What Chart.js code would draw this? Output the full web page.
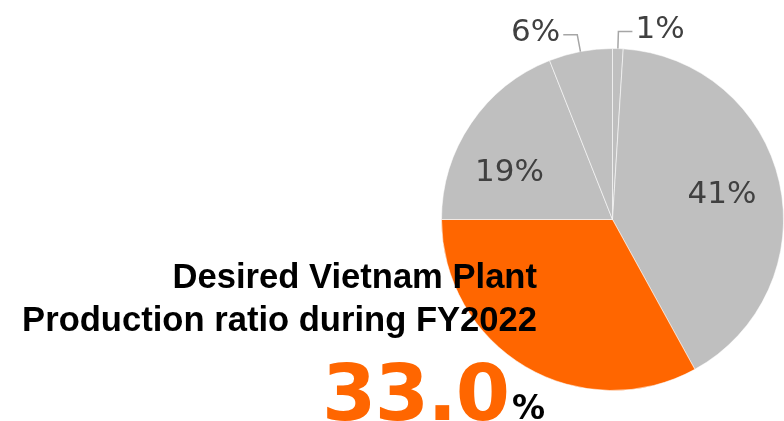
<!DOCTYPE html>
<html>
<head>
<meta charset="utf-8">
<script src="https://cdn.jsdelivr.net/npm/chart.js@4/dist/chart.umd.min.js"></script>
<style>
  html, body { margin: 0; padding: 0; background: #ffffff; }
  canvas { display: block; }
</style>
</head>
<body>
<canvas id="c" width="784" height="421"></canvas>
<script>
// Production share by plant, clockwise from 12 o'clock
const categories = ['Plant A', 'Plant B', 'Vietnam Plant', 'Plant C', 'Plant D'];
const shares = [1, 41, 33, 19, 6];
const highlightIndex = 2;
const titleLines = ['Desired Vietnam Plant', 'Production ratio during FY2022'];

const GRAY = '#bfbfbf';
const ORANGE = '#ff6600';
const LABEL_COLOR = '#404040';
const LEADER_COLOR = '#a6a6a6';

// Label placement for each slice: inside labels sit at a fraction of the
// slice's sweep and a fraction of the radius; outside labels use a leader.
const labelPlacement = [
  { outside: true, side: 1 },
  { outside: false, along: 0.49, radial: 0.66 },
  { hidden: true },
  { outside: false, along: 0.38, radial: 0.67 },
  { outside: true, side: -1 }
];

const sliceLabels = {
  id: 'sliceLabels',
  afterDatasetsDraw(chart) {
    const ctx = chart.ctx;
    const meta = chart.getDatasetMeta(0);
    const total = shares.reduce((a, b) => a + b, 0);
    const fs = 31;
    ctx.save();
    ctx.font = fs + 'px "DejaVu Sans", Verdana, sans-serif';
    ctx.fillStyle = LABEL_COLOR;
    meta.data.forEach((arc, i) => {
      const p = labelPlacement[i];
      if (p.hidden) return;
      const { x, y, startAngle, endAngle, outerRadius } = arc.getProps(['x', 'y', 'startAngle', 'endAngle', 'outerRadius'], true);
      const text = Math.round(shares[i] / total * 100) + '%';
      if (!p.outside) {
        const a = startAngle + (endAngle - startAngle) * p.along;
        const r = outerRadius * p.radial;
        ctx.textAlign = 'center';
        ctx.textBaseline = 'alphabetic';
        ctx.fillText(text, x + Math.cos(a) * r, y + Math.sin(a) * r + fs * 0.365);
      } else {
        const a = (startAngle + endAngle) / 2;
        const ex = x + Math.cos(a) * outerRadius;
        const ey = y + Math.sin(a) * outerRadius;
        const kx = x + Math.cos(a) * outerRadius * 1.1;
        const ky = y + Math.sin(a) * outerRadius * 1.1;
        const hx = kx + p.side * 14;
        ctx.strokeStyle = LEADER_COLOR;
        ctx.lineWidth = 1.5;
        ctx.beginPath();
        ctx.moveTo(ex, ey);
        ctx.lineTo(kx, ky);
        ctx.lineTo(hx, ky);
        ctx.stroke();
        ctx.textAlign = p.side > 0 ? 'left' : 'right';
        ctx.textBaseline = 'alphabetic';
        ctx.fillText(text, hx + p.side * 3, ky + fs * 0.2);
      }
    });
    ctx.restore();
  }
};

const headline = {
  id: 'headline',
  afterDraw(chart) {
    const ctx = chart.ctx;
    ctx.save();
    ctx.fillStyle = '#000000';
    ctx.font = 'bold 34.6px "Liberation Sans", Arial, sans-serif';
    ctx.textAlign = 'right';
    ctx.textBaseline = 'alphabetic';
    ctx.fillText(titleLines[0], 537, 288);
    ctx.fillText(titleLines[1], 537, 331);

    const value = shares[highlightIndex].toFixed(1);
    ctx.textAlign = 'left';
    ctx.fillStyle = ORANGE;
    ctx.font = 'bold 78px "DejaVu Sans", Verdana, sans-serif';
    ctx.letterSpacing = '-1.5px';
    ctx.fillText(value, 322, 420);
    ctx.letterSpacing = '0px';
    ctx.fillStyle = '#000000';
    ctx.font = 'bold 33px "DejaVu Sans", Verdana, sans-serif';
    ctx.fillText('%', 512, 419);
    ctx.restore();
  }
};

new Chart(document.getElementById('c'), {
  type: 'pie',
  data: {
    labels: categories,
    datasets: [{
      data: shares,
      backgroundColor: shares.map((_, i) => i === highlightIndex ? ORANGE : GRAY),
      borderColor: 'rgba(255,255,255,0.55)',
      borderWidth: 1
    }]
  },
  options: {
    responsive: false,
    devicePixelRatio: 1,
    animation: false,
    layout: { padding: { left: 441, right: 0, top: 48, bottom: 30 } },
    plugins: {
      legend: { display: false },
      tooltip: { enabled: false }
    }
  },
  plugins: [sliceLabels, headline]
});
</script>
</body>
</html>
